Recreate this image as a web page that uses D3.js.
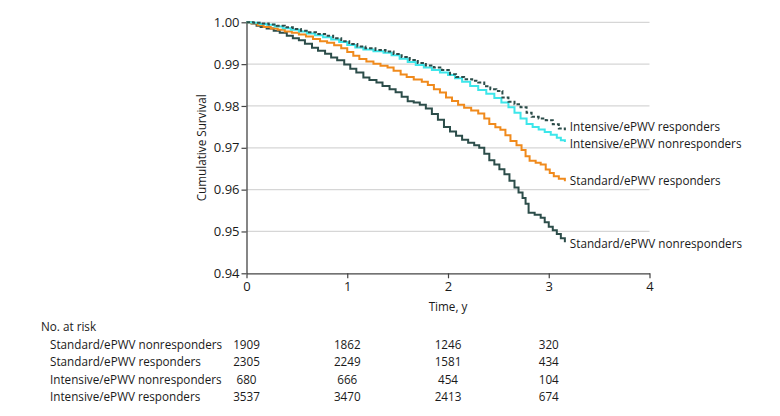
<!DOCTYPE html>
<html><head><meta charset="utf-8">
<script src="https://cdn.jsdelivr.net/npm/d3@7"></script>
<style>
body{margin:0;background:#fff;}
svg text{font-family:"Open Sans",Lato,sans-serif;fill:#1a1a1a;}
</style></head>
<body><svg id="chart" width="780" height="416"></svg>
<script>
// ---------- data ----------
const xTicks = [0, 1, 2, 3, 4];
const yTicks = [0.94, 0.95, 0.96, 0.97, 0.98, 0.99, 1.00];

const stdNonTime = [0,0.05,0.10,0.14,0.20,0.27,0.33,0.40,0.46,0.52,0.58,0.65,0.71,0.78,0.84,0.90,0.97,1.03,1.09,1.16,1.22,1.29,1.35,1.42,1.48,1.54,1.60,1.66,1.72,1.78,1.84,1.90,1.96,2.02,2.08,2.14,2.20,2.26,2.31,2.36,2.41,2.46,2.51,2.56,2.61,2.66,2.70,2.74,2.77,2.80,2.86,2.92,2.96,3.00,3.04,3.08,3.12,3.16];
const stdNonSurv = [1.0000,0.9997,0.9992,0.9989,0.9985,0.9980,0.9975,0.9968,0.9962,0.9957,0.9949,0.9939,0.9932,0.9925,0.9916,0.9909,0.9899,0.9889,0.9880,0.9868,0.9862,0.9856,0.9848,0.9840,0.9833,0.9822,0.9811,0.9808,0.9803,0.9794,0.9781,0.9767,0.9750,0.9739,0.9729,0.9719,0.9712,0.9706,0.9700,0.9686,0.9670,0.9660,0.9649,0.9637,0.9621,0.9605,0.9593,0.9580,0.9566,0.9545,0.9540,0.9533,0.9522,0.9511,0.9503,0.9494,0.9484,0.9474];

const stdRespTime = [0,0.05,0.11,0.17,0.24,0.31,0.38,0.45,0.52,0.59,0.66,0.73,0.80,0.87,0.94,1.00,1.06,1.12,1.19,1.26,1.33,1.40,1.46,1.53,1.59,1.66,1.74,1.80,1.86,1.92,1.98,2.04,2.10,2.16,2.23,2.30,2.36,2.41,2.47,2.52,2.57,2.62,2.68,2.73,2.77,2.81,2.87,2.92,2.97,3.01,3.05,3.10,3.16];
const stdRespSurv = [1.0000,0.9998,0.9993,0.9989,0.9985,0.9982,0.9978,0.9975,0.9971,0.9966,0.9960,0.9955,0.9951,0.9945,0.9938,0.9929,0.9920,0.9912,0.9906,0.9901,0.9896,0.9892,0.9884,0.9875,0.9869,0.9863,0.9858,0.9850,0.9840,0.9832,0.9820,0.9812,0.9803,0.9796,0.9789,0.9782,0.9770,0.9757,0.9749,0.9743,0.9730,0.9716,0.9706,0.9695,0.9680,0.9669,0.9664,0.9660,0.9648,0.9640,0.9632,0.9626,0.9620];

const intNonTime = [0,0.06,0.13,0.20,0.28,0.36,0.44,0.52,0.60,0.68,0.76,0.84,0.92,1.00,1.08,1.16,1.26,1.36,1.44,1.52,1.60,1.68,1.76,1.84,1.92,2.00,2.07,2.14,2.22,2.30,2.38,2.46,2.53,2.60,2.66,2.72,2.78,2.84,2.90,2.96,3.02,3.08,3.12,3.16];
const intNonSurv = [1.0000,0.9999,0.9996,0.9994,0.9990,0.9986,0.9982,0.9978,0.9973,0.9969,0.9964,0.9959,0.9953,0.9946,0.9940,0.9935,0.9931,0.9927,0.9921,0.9913,0.9905,0.9898,0.9892,0.9886,0.9880,0.9874,0.9866,0.9858,0.9848,0.9838,0.9829,0.9819,0.9808,0.9797,0.9784,0.9770,0.9757,0.9750,0.9744,0.9738,0.9731,0.9724,0.9718,0.9714];

const intRespTime = [0,0.07,0.14,0.22,0.30,0.38,0.46,0.54,0.62,0.70,0.78,0.86,0.94,1.02,1.10,1.18,1.28,1.38,1.46,1.54,1.62,1.70,1.78,1.86,1.94,2.02,2.08,2.16,2.24,2.30,2.36,2.42,2.48,2.54,2.60,2.66,2.72,2.78,2.83,2.90,2.97,3.04,3.10,3.16];
const intRespSurv = [1.0000,0.9999,0.9997,0.9995,0.9992,0.9988,0.9984,0.9980,0.9976,0.9972,0.9968,0.9962,0.9955,0.9948,0.9942,0.9938,0.9934,0.9930,0.9924,0.9917,0.9910,0.9903,0.9897,0.9892,0.9886,0.9876,0.9869,0.9864,0.9860,0.9856,0.9847,0.9840,0.9836,0.9820,0.9810,0.9804,0.9797,0.9784,0.9774,0.9770,0.9766,0.9756,0.9746,0.9742];

const riskGroups = ["Standard/ePWV nonresponders","Standard/ePWV responders","Intensive/ePWV nonresponders","Intensive/ePWV responders"];
const riskTimes = [0, 1, 2, 3];
const riskStdNon = [1909, 1862, 1246, 320];
const riskStdResp = [2305, 2249, 1581, 434];
const riskIntNon = [680, 666, 454, 104];
const riskIntResp = [3537, 3470, 2413, 674];

// ---------- drawing ----------
const FS = 11.7;
const svg = d3.select("#chart");
const x = d3.scaleLinear().domain([0, 4]).range([246.5, 649.5]);
const y = d3.scaleLinear().domain([0.94, 1.00]).range([273.3, 22.3]);

const series = [
  {name:"Standard/ePWV nonresponders", t:stdNonTime, s:stdNonSurv, color:"#2c4d4a", dash:null, dy:2},
  {name:"Standard/ePWV responders", t:stdRespTime, s:stdRespSurv, color:"#f08a1c", dash:null, dy:0},
  {name:"Intensive/ePWV nonresponders", t:intNonTime, s:intNonSurv, color:"#3de6ea", dash:null, dy:2},
  {name:"Intensive/ePWV responders", t:intRespTime, s:intRespSurv, color:"#2c4d4a", dash:"3.5,2", dy:-3}
];

// gridlines
svg.append("g").selectAll("line").data(yTicks.filter(v => v > 0.94)).join("line")
  .attr("x1", x(0)).attr("x2", x(4))
  .attr("y1", d => y(d)).attr("y2", d => y(d))
  .attr("stroke", "#d6d6d6").attr("stroke-width", 1.2);

// axes
const yAxis = svg.append("g").attr("transform", `translate(${x(0)},0)`)
  .call(d3.axisLeft(y).tickValues(yTicks).tickFormat(d3.format(".2f")).tickSize(5).tickSizeOuter(0));
const xAxis = svg.append("g").attr("transform", `translate(0,${y(0.94)})`)
  .call(d3.axisBottom(x).tickValues(xTicks).tickFormat(d3.format("d")).tickSize(5).tickSizeOuter(0));
[yAxis, xAxis].forEach(a => {
  a.select(".domain").attr("stroke", "#444").attr("stroke-width", 1.3);
  a.selectAll(".tick line").attr("stroke", "#444").attr("stroke-width", 1.2);
  a.selectAll(".tick text").attr("font-family", "'Open Sans', sans-serif").attr("font-size", 13).attr("fill", "#1a1a1a");
});
yAxis.selectAll(".tick text").attr("x", -7);
xAxis.selectAll(".tick text").attr("y", 8);

// axis titles
svg.append("text").attr("transform", `translate(206,${(y(0.94)+y(1))/2}) rotate(-90)`)
  .attr("text-anchor", "middle").attr("font-size", FS).text("Cumulative Survival");
svg.append("text").attr("x", (x(0)+x(4))/2).attr("y", 311)
  .attr("text-anchor", "middle").attr("font-size", FS).text("Time, y");

// curves
const line = d3.line().x(d => x(d[0])).y(d => y(d[1])).curve(d3.curveStepAfter);
series.forEach(sr => {
  const pts = sr.t.map((t, i) => [t, sr.s[i]]);
  const p = svg.append("path").datum(pts).attr("d", line)
    .attr("fill", "none").attr("stroke", sr.color).attr("stroke-width", 2);
  if (sr.dash) p.attr("stroke-dasharray", sr.dash);
  const last = pts[pts.length - 1];
  svg.append("text").attr("x", x(last[0]) + 5).attr("y", y(last[1]) + sr.dy)
    .attr("dy", "0.35em").attr("font-size", FS).text(sr.name);
});

// risk table
svg.append("text").attr("x", 41).attr("y", 331).attr("font-size", FS).text("No. at risk");
const riskRows = [riskStdNon, riskStdResp, riskIntNon, riskIntResp];
riskGroups.forEach((g, i) => {
  const yy = 349 + i * 17.4;
  svg.append("text").attr("x", 50).attr("y", yy).attr("font-size", FS).text(g);
  riskRows[i].forEach((v, j) => {
    svg.append("text").attr("x", x(riskTimes[j])).attr("y", yy)
      .attr("text-anchor", "middle").attr("font-size", FS).text(v);
  });
});
</script></body></html>
